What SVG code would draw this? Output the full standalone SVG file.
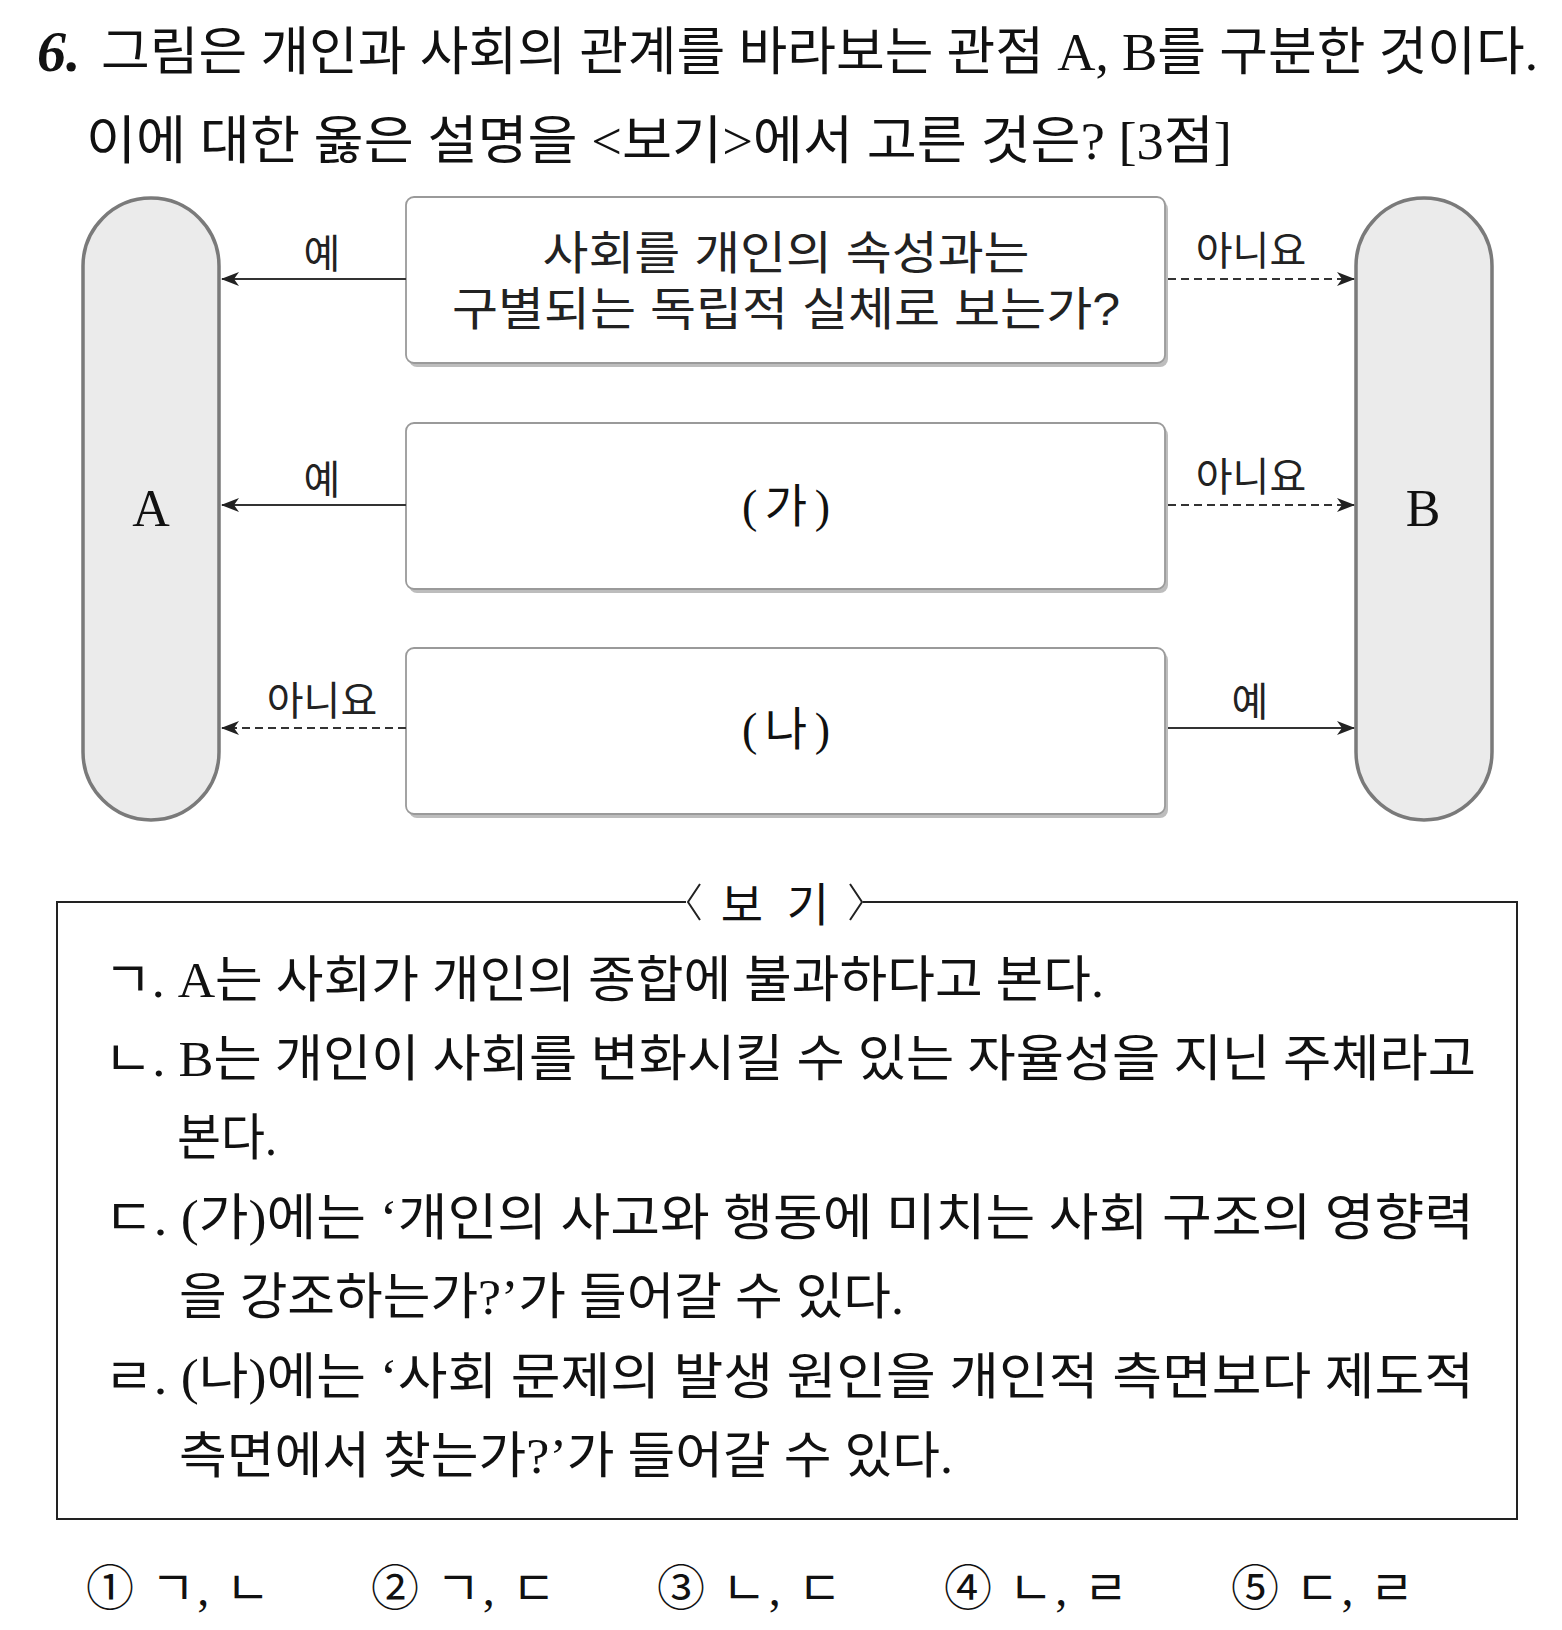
<svg xmlns="http://www.w3.org/2000/svg" width="1562" height="1630" viewBox="0 0 1562 1630">
<style>
.serif{font-family:'Liberation Serif','Noto Sans CJK KR',serif;fill:#111}
.sans{font-family:'Liberation Sans','Noto Sans CJK KR',sans-serif;fill:#222}
.pill{fill:#ebebeb;stroke:#7a7a7a;stroke-width:3.5}
.box{fill:#ffffff;stroke:#9a9a9a;stroke-width:1.8}
.shadow{fill:#bdbdbd}
.solid{stroke:#333;stroke-width:2;fill:none}
.dash{stroke:#333;stroke-width:2;fill:none;stroke-dasharray:8 5}
.frame{stroke:#222;stroke-width:2;fill:none}
</style>
<defs>
<marker id="arr" markerUnits="userSpaceOnUse" markerWidth="18" markerHeight="14" refX="17" refY="7" orient="auto">
<path d="M0,0 L18,7 L0,14 L5,7 Z" fill="#222"/>
</marker>
</defs>
<rect width="1562" height="1630" fill="#ffffff"/>

<g id="question">
<text class="serif" x="37" y="71" font-size="58" font-style="italic" font-weight="bold">6.</text>
<text class="serif" x="101" y="70" font-size="52" textLength="1437" lengthAdjust="spacingAndGlyphs">그림은 개인과 사회의 관계를 바라보는 관점 A, B를 구분한 것이다.</text>
<text class="serif" x="86" y="159" font-size="52" textLength="1146" lengthAdjust="spacingAndGlyphs">이에 대한 옳은 설명을 &lt;보기&gt;에서 고른 것은? [3점]</text>
</g>

<g id="nodeA">
<rect class="pill" x="83" y="198" width="136" height="622" rx="68" ry="68"/>
<text class="serif" x="151" y="526" font-size="52" text-anchor="middle" fill="#333">A</text>
</g>
<g id="nodeB">
<rect class="pill" x="1356" y="198" width="136" height="622" rx="68" ry="68"/>
<text class="serif" x="1423" y="526" font-size="52" text-anchor="middle" fill="#333">B</text>
</g>

<g id="q1">
<rect class="shadow" x="409" y="201" width="759" height="166" rx="8"/>
<rect class="box" x="406" y="197" width="759" height="166" rx="8"/>
<text class="sans" x="786" y="269" font-size="46" text-anchor="middle" textLength="487" lengthAdjust="spacingAndGlyphs">사회를 개인의 속성과는</text>
<text class="sans" x="786" y="325" font-size="46" text-anchor="middle" textLength="668" lengthAdjust="spacingAndGlyphs">구별되는 독립적 실체로 보는가?</text>
</g>
<g id="q2">
<rect class="shadow" x="409" y="427" width="759" height="166" rx="8"/>
<rect class="box" x="406" y="423" width="759" height="166" rx="8"/>
<text class="serif" x="786" y="522" font-size="46" text-anchor="middle" fill="#333" textLength="88">(가)</text>
</g>
<g id="q3">
<rect class="shadow" x="409" y="652" width="759" height="166" rx="8"/>
<rect class="box" x="406" y="648" width="759" height="166" rx="8"/>
<text class="serif" x="786" y="745" font-size="46" text-anchor="middle" fill="#333" textLength="88">(나)</text>
</g>

<g id="connectors">
<line class="solid" x1="406" y1="279" x2="222" y2="279" marker-end="url(#arr)"/>
<line class="dash" x1="1168" y1="279" x2="1354" y2="279" marker-end="url(#arr)"/>
<line class="solid" x1="406" y1="505" x2="222" y2="505" marker-end="url(#arr)"/>
<line class="dash" x1="1168" y1="505" x2="1354" y2="505" marker-end="url(#arr)"/>
<line class="dash" x1="406" y1="728" x2="222" y2="728" marker-end="url(#arr)"/>
<line class="solid" x1="1168" y1="728" x2="1354" y2="728" marker-end="url(#arr)"/>
<text class="sans" x="322" y="268" font-size="40" text-anchor="middle">예</text>
<text class="sans" x="1251" y="265" font-size="40" text-anchor="middle">아니요</text>
<text class="sans" x="322" y="494" font-size="40" text-anchor="middle">예</text>
<text class="sans" x="1251" y="491" font-size="40" text-anchor="middle">아니요</text>
<text class="sans" x="322" y="715" font-size="40" text-anchor="middle">아니요</text>
<text class="sans" x="1250" y="716" font-size="40" text-anchor="middle">예</text>
</g>

<g id="bogi">
<path class="frame" d="M686,902 L57,902 L57,1519 L1517,1519 L1517,902 L863,902"/>
<path class="frame" d="M700,884 L688,902 L700,920" stroke-width="1.6"/>
<path class="frame" d="M850,884 L862,902 L850,920" stroke-width="1.6"/>
<text class="serif" x="742" y="921" font-size="46" text-anchor="middle">보</text>
<text class="serif" x="808" y="921" font-size="46" text-anchor="middle">기</text>
<text class="serif" x="104" y="997" font-size="50" textLength="1000" lengthAdjust="spacingAndGlyphs">ㄱ. A는 사회가 개인의 종합에 불과하다고 본다.</text>
<text class="serif" x="104" y="1076" font-size="50" textLength="1372" lengthAdjust="spacingAndGlyphs">ㄴ. B는 개인이 사회를 변화시킬 수 있는 자율성을 지닌 주체라고</text>
<text class="serif" x="177" y="1155" font-size="50" textLength="100" lengthAdjust="spacingAndGlyphs">본다.</text>
<text class="serif" x="104" y="1235" font-size="50" textLength="1370" lengthAdjust="spacingAndGlyphs">ㄷ. (가)에는 ‘개인의 사고와 행동에 미치는 사회 구조의 영향력</text>
<text class="serif" x="179" y="1314" font-size="50" textLength="725" lengthAdjust="spacingAndGlyphs">을 강조하는가?’가 들어갈 수 있다.</text>
<text class="serif" x="104" y="1394" font-size="50" textLength="1370" lengthAdjust="spacingAndGlyphs">ㄹ. (나)에는 ‘사회 문제의 발생 원인을 개인적 측면보다 제도적</text>
<text class="serif" x="179" y="1473" font-size="50" textLength="774" lengthAdjust="spacingAndGlyphs">측면에서 찾는가?’가 들어갈 수 있다.</text>
</g>

<g id="choices">
<text class="serif" x="86" y="1605" font-size="48" textLength="184">① ㄱ, ㄴ</text>
<text class="serif" x="371" y="1605" font-size="48" textLength="185">② ㄱ, ㄷ</text>
<text class="serif" x="657" y="1605" font-size="48" textLength="185">③ ㄴ, ㄷ</text>
<text class="serif" x="944" y="1605" font-size="48" textLength="184">④ ㄴ, ㄹ</text>
<text class="serif" x="1231" y="1605" font-size="48" textLength="183">⑤ ㄷ, ㄹ</text>
</g>
</svg>
